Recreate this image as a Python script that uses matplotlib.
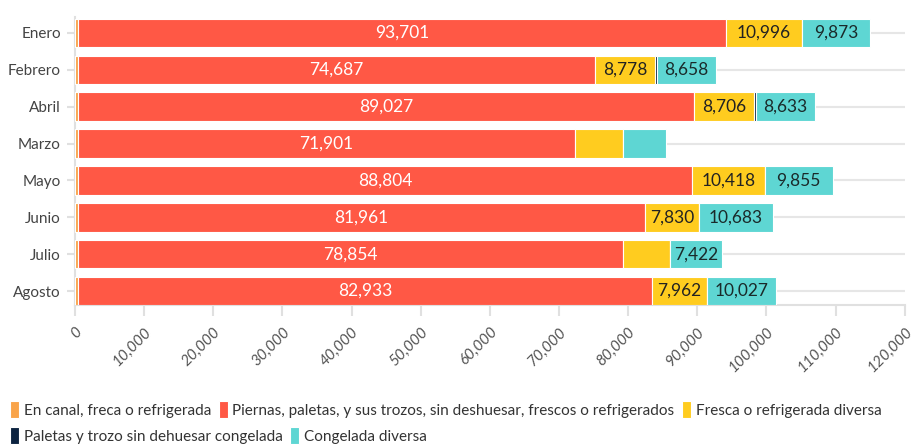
import numpy as np
import matplotlib.pyplot as plt

plt.rcParams['font.family'] = ['Lato', 'DejaVu Sans']

# months as shown (top to bottom)
months = ['Enero', 'Febrero', 'Abril', 'Marzo', 'Mayo', 'Junio', 'Julio', 'Agosto']

# series values
en_canal = [450, 450, 500, 450, 500, 450, 450, 500]
piernas = [93701, 74687, 89027, 71901, 88804, 81961, 78854, 82933]
fresca_div = [10996, 8778, 8706, 6940, 10418, 7830, 6800, 7962]
paletas_cong = [0, 200, 200, 0, 0, 0, 0, 0]
congelada_div = [9873, 8658, 8633, 6200, 9855, 10683, 7422, 10027]

# which labels are printed in the original (None = hidden)
fresca_lbl = ['10,996', '8,778', '8,706', None, '10,418', '7,830', None, '7,962']
cong_lbl = ['9,873', '8,658', '8,633', None, '9,855', '10,683', '7,422', '10,027']

names = ['En canal, freca o refrigerada',
         'Piernas, paletas, y sus trozos, sin deshuesar, frescos o refrigerados',
         'Fresca o refrigerada diversa',
         'Paletas y trozo sin dehuesar congelada',
         'Congelada diversa']
colors = ['#F9A44A', '#FF5845', '#FFCC1F', '#0C2340', '#5ED6D3']

fig = plt.figure(figsize=(9.13, 4.48), dpi=100)
ax = fig.add_axes([0.082, 0.319, 0.909, 0.643])

y = np.arange(len(months))
series = [en_canal, piernas, fresca_div, paletas_cong, congelada_div]
left = np.zeros(len(months))
bars = []
for vals, c, n in zip(series, colors, names):
    b = ax.barh(y, vals, left=left, height=0.77, color=c, edgecolor='white',
                linewidth=0.8, label=n, zorder=3)
    bars.append(b)
    left = left + np.array(vals)

# labels
for i in range(len(months)):
    r = bars[1][i]
    ax.text(r.get_x() + r.get_width() / 2, y[i], f'{piernas[i]:,}', ha='center',
            va='center', color='white', fontsize=12.5, zorder=5)
    if fresca_lbl[i]:
        r = bars[2][i]
        ax.text(r.get_x() + r.get_width() / 2, y[i], fresca_lbl[i], ha='center',
                va='center', color='#222222', fontsize=12.5, zorder=5)
    if cong_lbl[i]:
        r = bars[4][i]
        ax.text(r.get_x() + r.get_width() / 2, y[i], cong_lbl[i], ha='center',
                va='center', color='#1a2a2a', fontsize=12.5, zorder=5)

ax.set_ylim(7.38, -0.43)
ax.set_xlim(0, 120000)
ax.set_yticks(y)
ax.set_yticklabels(months, fontsize=11, color='#444444')
xt = np.arange(0, 120001, 10000)
ax.set_xticks(xt)
ax.set_xticklabels([f'{v:,}' for v in xt], rotation=45, ha='right',
                   rotation_mode='anchor', fontsize=11, color='#555555')
for t in ax.get_xticklabels():
    t.set_fontstyle('italic')

for yy in y:
    ax.axhline(yy, color='#e6e6e6', linewidth=1.5, zorder=1)

for s in ['top', 'right']:
    ax.spines[s].set_visible(False)
ax.spines['left'].set_color('#e0e0e0')
ax.spines['bottom'].set_color('#e0e0e0')
ax.spines['left'].set_linewidth(1.5)
ax.spines['bottom'].set_linewidth(1.5)
ax.tick_params(axis='y', length=6, color='#e0e0e0', width=1.5, pad=4)
ax.tick_params(axis='x', length=8, color='#e0e0e0', width=1.5, pad=6)

h, l = ax.get_legend_handles_labels()
kw = dict(frameon=False, fontsize=11, handlelength=0.6, handleheight=1.3,
          handletextpad=0.3, columnspacing=0.5, borderaxespad=0, labelcolor='#333333')
leg1 = fig.legend(h[:3], l[:3], ncol=3, loc='upper left',
                  bbox_to_anchor=(0.004, 0.118), **kw)
leg2 = fig.legend(h[3:], l[3:], ncol=2, loc='upper left',
                  bbox_to_anchor=(0.004, 0.06), **kw)

fig.savefig('out.png', dpi=100)
